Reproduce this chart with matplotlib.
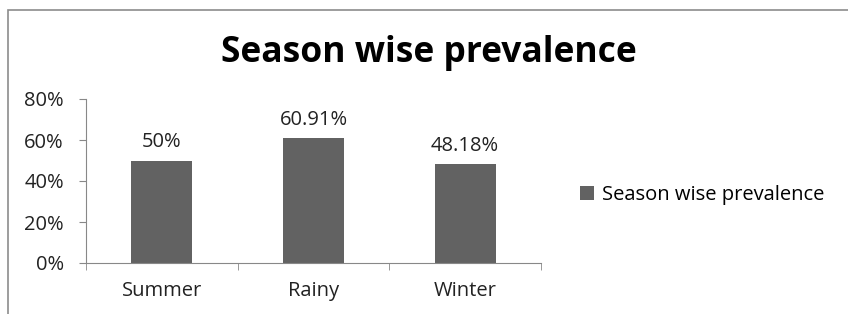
import matplotlib.pyplot as plt
from matplotlib.patches import Rectangle

seasons = ["Summer", "Rainy", "Winter"]
prevalence = [50.0, 60.91, 48.18]
value_labels = ["50%", "60.91%", "48.18%"]
yticks = [0, 20, 40, 60, 80]
ytick_labels = ["0%", "20%", "40%", "60%", "80%"]

plt.rcParams["font.family"] = ["Open Sans", "DejaVu Sans"]

fig = plt.figure(figsize=(8.48, 3.14), dpi=100)

# outer chart frame (runs off the right/bottom edge)
fig.patches.append(Rectangle(
    (8 / 848, -0.1), 1.0, 1 - 10 / 314 + 0.1,
    transform=fig.transFigure, fill=False,
    edgecolor="#8c8c8c", linewidth=1.2
))

ax = fig.add_axes([86 / 848, 1 - 263 / 314, 455 / 848, 164 / 314])

x = range(len(seasons))
bars = ax.bar(x, prevalence, width=0.40, color="#626262",
              label="Season wise prevalence")

for i, b in enumerate(bars):
    ax.annotate(value_labels[i],
                (b.get_x() + b.get_width() / 2, b.get_height()),
                xytext=(0, 6), textcoords="offset points",
                ha="center", va="bottom", fontsize=14.5, color="#222222")

ax.set_xlim(-0.5, 2.5)
ax.set_ylim(0, 80)
ax.set_yticks(yticks)
ax.set_yticklabels(ytick_labels, fontsize=14.5, color="#222222")
ax.set_xticks(list(x))
ax.set_xticklabels(seasons, fontsize=14.5, color="#222222")
ax.tick_params(axis="x", length=0, pad=13)
ax.tick_params(axis="y", length=5, color="#888888", pad=11)

# category boundary ticks on x axis
ax.set_xticks([-0.5, 0.5, 1.5, 2.5], minor=True)
ax.tick_params(axis="x", which="minor", length=5, color="#888888")

for s in ["top", "right"]:
    ax.spines[s].set_visible(False)
ax.spines["left"].set_color("#888888")
ax.spines["bottom"].set_color("#888888")

fig.text(429 / 848, 1 - 53 / 314, "Season wise prevalence",
         ha="center", va="center", fontsize=25.5, fontweight="bold",
         color="black")

fig.legend(loc="center left", bbox_to_anchor=(562 / 848, 1 - 195 / 314),
           frameon=False, fontsize=14.5, handlelength=0.7, handleheight=0.7,
           handletextpad=0.4)

plt.savefig("out.png", dpi=100)
plt.close()
